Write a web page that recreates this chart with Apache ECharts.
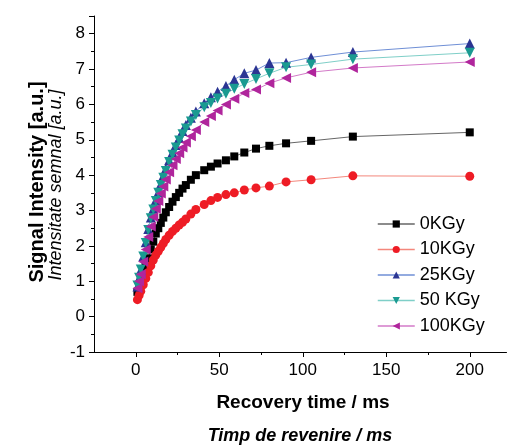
<!DOCTYPE html>
<html>
<head>
<meta charset="utf-8">
<script src="https://cdn.jsdelivr.net/npm/echarts@6/dist/echarts.min.js"></script>
<style>html,body{margin:0;padding:0;background:#fff}#c{width:508px;height:445px}</style>
</head>
<body>
<div id="c"></div>
<script>
// Recovery time (ms)
const xValues = [1, 2, 3, 4.5, 6, 7.5, 9, 10.5, 12, 13.5, 15, 16.5, 18, 20, 22, 24, 26, 28, 30, 33, 36, 41, 45, 49, 54, 59, 65, 72, 80, 90, 105, 130, 200];
const y0KGy   = [0.70, 0.85, 1.00, 1.20, 1.42, 1.65, 1.90, 2.12, 2.35, 2.50, 2.65, 2.80, 2.95, 3.10, 3.25, 3.38, 3.50, 3.62, 3.72, 3.87, 4.00, 4.14, 4.24, 4.33, 4.42, 4.53, 4.64, 4.75, 4.83, 4.90, 4.97, 5.09, 5.21];
const y10KGy  = [0.48, 0.60, 0.72, 0.90, 1.08, 1.25, 1.44, 1.60, 1.74, 1.85, 1.96, 2.07, 2.18, 2.30, 2.41, 2.50, 2.59, 2.67, 2.76, 2.90, 3.03, 3.17, 3.28, 3.37, 3.45, 3.50, 3.58, 3.64, 3.69, 3.81, 3.87, 3.98, 3.97];
const y25KGy  = [0.85, 1.08, 1.32, 1.70, 2.10, 2.48, 2.80, 3.05, 3.30, 3.52, 3.75, 3.98, 4.18, 4.42, 4.65, 4.85, 5.05, 5.25, 5.42, 5.62, 5.80, 6.03, 6.20, 6.36, 6.52, 6.70, 6.88, 6.97, 7.17, 7.18, 7.33, 7.48, 7.72];
const y50KGy  = [0.88, 1.10, 1.33, 1.70, 2.08, 2.45, 2.78, 3.03, 3.27, 3.50, 3.72, 3.93, 4.12, 4.37, 4.58, 4.78, 4.98, 5.16, 5.32, 5.52, 5.70, 5.92, 6.04, 6.17, 6.30, 6.44, 6.58, 6.72, 6.88, 7.05, 7.13, 7.28, 7.46];
const y100KGy = [0.80, 1.00, 1.20, 1.55, 1.90, 2.25, 2.55, 2.82, 3.05, 3.27, 3.48, 3.68, 3.88, 4.08, 4.28, 4.46, 4.62, 4.78, 4.92, 5.10, 5.28, 5.50, 5.67, 5.83, 6.00, 6.16, 6.32, 6.42, 6.60, 6.75, 6.91, 7.03, 7.20];
const seriesNames = ['0KGy', '10KGy', '25KGy', '50 KGy', '100KGy'];
const xTickLabels = [0, 50, 100, 150, 200];
const xMinorTicks = [25, 75, 125, 175];

const seriesValues = [y0KGy, y10KGy, y25KGy, y50KGy, y100KGy];
const styles = [
  {symbol: 'rect', size: 8, rot: 0, color: '#000000', line: '#666666'},
  {symbol: 'circle', size: 9, rot: 0, color: '#ee1c25', line: '#f4877c'},
  {symbol: 'triangle', size: 10, rot: 0, color: '#2b3593', line: '#6f8fd6'},
  {symbol: 'triangle', size: 10, rot: 180, color: '#1a9a91', line: '#7fcfc8'},
  {symbol: 'triangle', size: 10, rot: 90, color: '#b0259c', line: '#d37ac8'}
];

const series = seriesNames.map((name, i) => ({
  name: name,
  type: 'line',
  xAxisIndex: 0,
  data: xValues.map((x, j) => [x, seriesValues[i][j]]),
  symbol: styles[i].symbol,
  symbolSize: styles[i].size,
  symbolRotate: styles[i].rot,
  showAllSymbol: true,
  itemStyle: {color: styles[i].color},
  lineStyle: {color: styles[i].line, width: 1},
  emphasis: {disabled: true},
  animation: false
}));

const font = '"Liberation Sans", Arial, sans-serif';
const chart = echarts.init(document.getElementById('c'), null, {renderer: 'canvas'});
chart.setOption({
  animation: false,
  backgroundColor: '#ffffff',
  grid: {left: 94, right: 1.5, top: 16, bottom: 93, containLabel: false},
  xAxis: [{
    type: 'value', min: -25, max: 222,
    axisLine: {show: true, onZero: false, lineStyle: {color: '#000', width: 1}},
    axisTick: {show: true, length: 5, lineStyle: {color: '#000'}, customValues: xTickLabels},
    axisLabel: {customValues: xTickLabels, color: '#000', fontSize: 17, fontFamily: font, margin: 10},
    splitLine: {show: false}
  }, {
    type: 'value', min: -25, max: 222, position: 'bottom',
    axisLine: {show: false, onZero: false},
    axisTick: {show: true, length: 3, lineStyle: {color: '#000'}, customValues: xMinorTicks},
    axisLabel: {show: false},
    splitLine: {show: false}
  }],
  yAxis: {
    type: 'value', min: -1, max: 8.5, interval: 1,
    axisLine: {show: true, onZero: false, lineStyle: {color: '#000', width: 1}},
    axisTick: {show: true, length: 5, lineStyle: {color: '#000'}},
    minorTick: {show: true, splitNumber: 2, length: 3, lineStyle: {color: '#000'}},
    axisLabel: {color: '#000', fontSize: 17, fontFamily: font, margin: 9,
      formatter: v => (Number.isInteger(v) ? String(v) : '')},
    splitLine: {show: false}
  },
  legend: {
    orient: 'vertical', left: 372, top: 210,
    itemWidth: 37, itemHeight: 9, itemGap: 7.5,
    textStyle: {fontSize: 18, fontFamily: font, color: '#000'},
    data: seriesNames.map((n, i) => ({name: n, itemStyle: {color: styles[i].color}, lineStyle: {color: styles[i].line, width: 1.5}}))
  },
  graphic: [
    {type: 'text', x: 303, y: 403, style: {text: 'Recovery time / ms', font: 'bold 19px ' + font, fill: '#000', textAlign: 'center', textVerticalAlign: 'middle'}},
    {type: 'text', x: 300, y: 436, style: {text: 'Timp de revenire / ms', font: 'italic bold 18px ' + font, fill: '#000', textAlign: 'center', textVerticalAlign: 'middle'}},
    {type: 'text', x: 37, y: 182, rotation: Math.PI / 2, style: {text: 'Signal Intensity [a.u.]', font: 'bold 20px ' + font, fill: '#000', textAlign: 'center', textVerticalAlign: 'middle'}},
    {type: 'text', x: 56, y: 185, rotation: Math.PI / 2, style: {text: 'Intensitate semnal [a.u.]', font: 'italic 18px ' + font, fill: '#000', textAlign: 'center', textVerticalAlign: 'middle'}}
  ],
  series: series
});
</script>
</body>
</html>
